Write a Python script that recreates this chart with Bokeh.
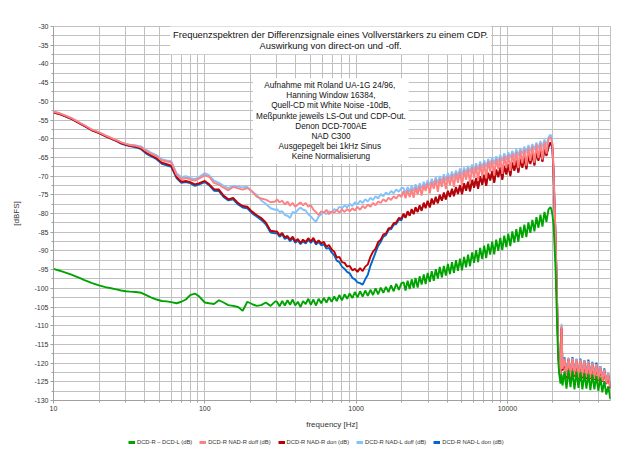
from bokeh.plotting import figure
from bokeh.layouts import column
from bokeh.models import FixedTicker, Legend, LegendItem, Label
from bokeh.embed import file_html
from bokeh.resources import INLINE

# ---------------- data ----------------
freq_hz = [
    10, 11, 12, 13, 14, 15, 16, 17, 18, 20, 22, 24, 26, 28, 30, 32, 35, 38, 41, 44,
    48, 52, 56, 60, 65, 70, 75, 80, 86, 92, 100, 107, 115, 124, 133, 143, 154, 166, 178, 191,
    205, 220, 236, 253, 272, 292,
    300, 312, 325, 338, 352, 366, 381, 396, 412, 429, 446, 464, 483, 502, 522, 543, 565, 588, 612, 637,
    662, 689, 717, 745, 775, 806, 839, 872, 907, 944, 982, 1021, 1062, 1105, 1149, 1195, 1243, 1293, 1345, 1399,
    1455, 1513, 1574, 1637, 1703, 1771, 1842, 1916, 1993,
    2060, 2120, 2190, 2260, 2330, 2400, 2470, 2550, 2630, 2710, 2800, 2880, 2970, 3070, 3160, 3260, 3360, 3470, 3570, 3690,
    3800, 3920, 4040, 4170, 4300, 4430, 4570, 4710, 4860, 5010, 5170, 5330, 5490, 5660, 5840, 6020, 6210, 6400, 6600, 6810,
    7020, 7240, 7460, 7690, 7930, 8180, 8430, 8700, 8970, 9250, 9530, 9830, 10130, 10450, 10770, 11110, 11450, 11810, 12170, 12550,
    12940, 13340, 13760, 14180, 14620, 15080, 15550, 16030, 16530, 17040, 17570, 18110, 18680, 19260,
    19560, 19860, 20170, 20480, 20790, 21110, 21430, 21760, 22090, 22430, 22780, 23130,
    23840, 24570, 25330, 26110, 26910, 27740, 28590, 29470, 30380, 31310, 32270, 33270, 34290, 35340, 36430, 37550, 38710, 39900, 41120, 42390,
    43690, 45030, 46420, 47850,
]

dcd_r_minus_l = [
    -94.8, -95.3, -95.8, -96.3, -96.8, -97.3, -97.8, -98.2, -98.6, -99.2, -99.7, -100.0, -100.3, -100.6, -100.8, -100.9, -101.0, -101.2, -101.8, -102.4,
    -103.0, -103.4, -103.5, -103.7, -104.0, -103.6, -103.0, -101.8, -101.4, -102.2, -103.8, -104.0, -104.2, -103.2, -103.8, -104.5, -104.7, -105.0, -106.0, -103.6,
    -104.2, -104.7, -104.5, -103.8, -104.7, -103.5,
    -103.6, -104.8, -103.4, -104.6, -103.2, -104.4, -103.0, -104.6, -103.6, -105.0, -103.4, -104.2, -102.8, -104.4, -103.0, -104.6, -102.8, -104.0, -102.6, -103.8,
    -102.4, -103.6, -102.2, -103.4, -101.8, -103.2, -101.6, -102.8, -101.4, -102.6, -101.0, -102.4, -100.8, -102.2, -100.6, -102.0, -100.4, -101.8, -100.0, -101.6,
    -99.8, -101.2, -99.6, -101.0, -99.2, -100.8, -98.8, -100.4, -98.6,
    -98.4, -100.6, -98.0, -100.2, -97.6, -99.9, -97.2, -99.8, -96.8, -99.0, -96.3, -98.9, -95.9, -98.3, -95.4, -98.0, -94.9, -97.4, -94.3, -97.1,
    -94.0, -96.6, -93.5, -96.2, -93.0, -95.9, -92.5, -95.3, -92.1, -95.2, -91.6, -94.4, -91.0, -94.1, -90.4, -93.2, -89.8, -93.0, -89.2, -92.2,
    -88.6, -91.9, -88.1, -91.0, -87.5, -90.9, -87.0, -90.0, -86.5, -89.8, -85.9, -89.0, -85.4, -88.7, -84.8, -87.8, -84.2, -87.6, -83.6, -86.5,
    -83.0, -86.3, -82.4, -85.2, -81.7, -84.8, -81.0, -83.8, -80.3, -83.5, -79.6, -82.2, -78.9, -78.3,
    -79.0, -80.5, -83.0, -88.5, -94.5, -104.0, -113.5, -120.5, -123.5, -125.5, -123.0, -126.0,
    -122.2, -126.8, -121.8, -126.4, -122.0, -127.0, -122.2, -126.6, -122.4, -127.0, -122.6, -126.8, -122.8, -127.2, -123.0, -127.0, -123.4, -127.4, -123.8, -127.8,
    -124.8, -128.4, -126.2, -129.6,
]

nad_r_doff = [
    -52.8, -53.2, -53.8, -54.4, -55.1, -55.8, -56.4, -57.0, -57.6, -58.3, -59.1, -59.8, -60.4, -61.0, -61.4, -61.7, -61.9, -62.3, -63.3, -64.0,
    -64.7, -65.8, -66.1, -66.3, -69.6, -70.8, -70.5, -70.9, -71.2, -70.6, -69.8, -70.2, -71.8, -72.3, -73.1, -73.8, -72.9, -73.3, -73.6, -73.2,
    -74.0, -75.5, -76.0, -76.3, -77.0, -76.8,
    -76.2, -77.0, -76.6, -77.6, -76.8, -77.9, -77.2, -78.2, -77.6, -77.0, -77.8, -77.2, -78.2, -77.8, -79.0, -79.6, -80.4, -79.4, -79.8, -79.0,
    -80.2, -79.4, -79.8, -79.0, -79.8, -78.9, -79.6, -78.8, -79.4, -78.6, -79.2, -78.2, -79.0, -78.0, -78.6, -77.6, -78.2, -77.2, -77.8, -76.8,
    -77.2, -76.2, -76.8, -75.8, -76.4, -75.4, -76.0, -75.0, -75.6,
    -74.0, -75.9, -73.8, -75.6, -73.5, -75.8, -73.0, -74.9, -72.6, -75.2, -72.3, -74.0, -71.8, -74.6, -71.5, -73.4, -70.9, -74.2, -70.8, -72.9,
    -70.2, -73.5, -70.0, -72.4, -69.6, -72.9, -69.2, -71.8, -68.8, -72.6, -68.5, -71.0, -68.0, -71.9, -67.6, -70.4, -67.2, -71.3, -66.8, -69.9,
    -66.5, -70.6, -66.0, -68.8, -65.7, -69.9, -65.4, -68.1, -65.0, -69.4, -64.6, -67.8, -64.2, -68.6, -63.9, -67.1, -63.5, -67.9, -63.1, -66.6,
    -62.8, -67.2, -62.4, -65.9, -62.0, -66.4, -61.6, -65.2, -61.2, -65.6, -60.8, -64.0, -60.2, -59.6,
    -60.2, -62.0, -68.5, -77.5, -85.5, -96.5, -108.5, -117.5, -122.0, -124.0, -110.0, -121.5,
    -119.0, -123.5, -118.6, -123.8, -118.8, -123.2, -119.0, -124.0, -119.2, -123.6, -119.4, -123.8, -119.6, -124.0, -120.0, -124.2, -120.4, -124.4, -121.0, -124.8,
    -121.8, -125.4, -123.0, -126.5,
]

nad_r_don = [
    -53.0, -53.4, -54.0, -54.6, -55.3, -56.0, -56.6, -57.2, -57.8, -58.5, -59.3, -60.0, -60.6, -61.2, -61.6, -61.9, -62.1, -62.6, -63.7, -64.4,
    -65.2, -66.4, -66.8, -67.2, -70.2, -71.5, -71.3, -71.6, -72.2, -71.9, -71.3, -72.2, -73.5, -73.6, -75.2, -76.2, -75.8, -77.2, -78.0, -78.2,
    -79.5, -80.4, -81.2, -82.4, -84.6, -84.8,
    -84.8, -85.8, -85.2, -86.4, -86.0, -87.0, -86.2, -87.4, -86.8, -87.9, -87.0, -87.6, -86.6, -87.5, -86.5, -87.9, -87.2, -88.0, -87.6, -88.9,
    -88.4, -89.6, -90.2, -91.8, -91.6, -93.0, -93.2, -94.2, -94.0, -95.2, -94.8, -95.6, -94.6, -95.4, -94.2, -93.6, -91.6, -90.2, -89.4, -87.6,
    -87.0, -85.6, -85.4, -84.0, -83.8, -82.6, -82.4, -81.2, -81.4,
    -80.0, -81.2, -79.4, -80.6, -78.8, -80.2, -78.3, -79.6, -77.8, -79.3, -77.1, -78.6, -76.6, -78.4, -76.0, -77.6, -75.5, -77.3, -75.0, -76.6,
    -74.4, -76.3, -73.9, -75.6, -73.4, -75.4, -72.9, -74.8, -72.4, -74.9, -71.9, -73.9, -71.5, -74.1, -71.0, -73.1, -70.5, -73.4, -70.0, -72.3,
    -69.6, -72.6, -69.1, -71.2, -68.6, -71.8, -68.2, -70.3, -67.7, -71.0, -67.2, -69.6, -66.8, -70.0, -66.3, -68.6, -65.8, -69.1, -65.4, -67.8,
    -64.9, -68.2, -64.5, -66.8, -64.0, -67.2, -63.5, -65.9, -63.1, -66.2, -62.6, -64.6, -62.0, -61.0,
    -61.4, -62.8, -69.0, -78.0, -86.0, -97.0, -109.0, -118.0, -122.5, -124.3, -110.5, -122.0,
    -119.6, -124.0, -119.0, -124.2, -119.3, -123.6, -119.5, -124.3, -119.6, -124.0, -119.8, -124.2, -120.0, -124.3, -120.4, -124.5, -120.8, -124.7, -121.4, -125.0,
    -122.2, -125.6, -123.4, -126.8,
]

nad_l_doff = [
    -52.8, -53.2, -53.8, -54.4, -55.1, -55.8, -56.4, -57.0, -57.6, -58.3, -59.1, -59.8, -60.4, -61.0, -61.4, -61.6, -61.8, -62.1, -63.0, -63.7,
    -64.4, -65.5, -65.8, -66.0, -69.2, -70.3, -70.0, -70.5, -70.8, -70.2, -69.2, -69.8, -71.2, -71.8, -72.6, -73.2, -72.6, -72.8, -73.0, -72.9,
    -74.2, -75.0, -76.5, -77.4, -78.6, -79.0,
    -78.8, -79.6, -79.4, -80.4, -80.6, -81.2, -79.6, -79.8, -79.0, -78.4, -79.0, -79.2, -80.2, -80.8, -81.6, -82.2, -80.8, -80.2, -79.6, -80.2,
    -79.4, -79.8, -78.8, -79.2, -78.2, -78.6, -77.8, -78.4, -77.4, -78.0, -77.0, -77.6, -76.6, -77.2, -76.2, -76.8, -75.8, -76.4, -75.4, -76.0,
    -74.8, -75.4, -74.4, -75.0, -74.0, -74.6, -73.6, -74.2, -73.2,
    -73.2, -74.6, -72.9, -74.2, -72.6, -74.0, -72.2, -73.8, -71.9, -73.3, -71.5, -73.0, -71.1, -72.6, -70.7, -72.2, -70.3, -71.9, -70.0, -71.5,
    -69.5, -71.2, -69.2, -70.7, -68.8, -70.5, -68.5, -70.0, -68.0, -69.8, -67.7, -69.2, -67.3, -69.0, -66.9, -68.5, -66.6, -68.3, -66.1, -67.8,
    -65.8, -67.6, -65.4, -67.0, -65.0, -66.8, -64.7, -66.3, -64.3, -66.0, -63.9, -65.6, -63.6, -65.2, -63.2, -64.9, -62.8, -64.6, -62.5, -64.1,
    -62.1, -63.8, -61.7, -63.4, -61.4, -63.0, -61.0, -62.7, -60.6, -62.3, -60.2, -61.8, -59.6, -58.9,
    -59.4, -61.5, -68.0, -77.0, -85.0, -96.0, -108.0, -117.0, -121.5, -123.5, -109.5, -121.0,
    -118.8, -123.0, -118.5, -123.2, -118.7, -122.9, -118.9, -123.3, -119.1, -123.1, -119.3, -123.3, -119.5, -123.5, -119.9, -123.7, -120.3, -124.0, -120.9, -124.4,
    -121.7, -125.0, -122.9, -126.2,
]

nad_l_don = [
    -53.0, -53.4, -54.0, -54.6, -55.3, -56.0, -56.6, -57.2, -57.8, -58.5, -59.3, -60.0, -60.6, -61.3, -61.7, -62.0, -62.3, -62.8, -64.0, -64.7,
    -65.5, -66.7, -67.1, -67.5, -70.5, -71.8, -71.6, -71.9, -72.6, -72.2, -71.6, -72.5, -73.9, -74.0, -75.6, -76.5, -76.2, -77.6, -78.4, -78.6,
    -79.9, -80.8, -81.7, -82.9, -85.1, -85.3,
    -85.2, -86.2, -85.6, -86.8, -86.4, -87.4, -86.6, -87.8, -87.2, -88.2, -87.4, -88.0, -87.0, -87.9, -87.0, -88.3, -87.6, -88.5, -88.2, -89.4,
    -89.2, -90.4, -91.2, -92.6, -93.0, -94.2, -94.8, -95.6, -96.0, -97.2, -97.6, -98.4, -98.6, -99.0, -97.6, -96.4, -94.0, -92.2, -90.4, -88.6,
    -87.6, -86.2, -85.8, -84.4, -84.2, -83.0, -82.8, -81.6, -81.8,
    -80.3, -81.0, -79.7, -80.4, -79.1, -80.0, -78.6, -79.4, -78.1, -79.0, -77.4, -78.3, -76.9, -78.1, -76.3, -77.3, -75.8, -77.0, -75.3, -76.3,
    -74.7, -76.0, -74.2, -75.3, -73.7, -75.1, -73.2, -74.5, -72.7, -74.6, -72.2, -73.6, -71.8, -73.8, -71.3, -72.8, -70.8, -73.1, -70.3, -72.0,
    -69.9, -72.3, -69.4, -70.9, -68.9, -71.5, -68.5, -70.0, -68.0, -70.7, -67.5, -69.3, -67.1, -69.7, -66.6, -68.3, -66.1, -68.8, -65.7, -67.5,
    -65.2, -67.9, -64.8, -66.5, -64.3, -66.9, -63.8, -65.6, -63.4, -65.9, -62.9, -64.3, -62.3, -61.3,
    -61.6, -63.0, -69.2, -78.2, -86.2, -97.2, -109.2, -118.2, -122.6, -124.4, -110.8, -121.8,
    -118.5, -122.5, -118.9, -122.8, -118.4, -122.6, -118.9, -123.0, -118.8, -122.8, -119.2, -123.0, -119.1, -123.2, -119.7, -123.4, -119.9, -123.8, -120.8, -124.2,
    -121.4, -124.8, -122.8, -126.0,
]

series_labels = [
    "DCD-R \u2013 DCD-L (dB)",
    "DCD-R NAD-R doff (dB)",
    "DCD-R NAD-R don (dB)",
    "DCD-R NAD-L doff (dB)",
    "DCD-R NAD-L don (dB)",
]
series_colors = ["#00a400", "#ff8080", "#c00000", "#80c4ff", "#0066cc"]

x_ticks = [10, 100, 1000, 10000]
x_tick_labels = ["10", "100", "1000", "10000"]
y_ticks = [-130, -125, -120, -115, -110, -105, -100, -95, -90, -85, -80, -75, -70, -65, -60, -55, -50, -45, -40, -35, -30]
y_tick_labels = ["-130", "-125", "-120", "-115", "-110", "-105", "-100", "-95", "-90", "-85", "-80", "-75", "-70", "-65", "-60", "-55", "-50", "-45", "-40", "-35", "-30"]

title_text = ("Frequenzspektren der Differenzsignale eines Vollverst\u00e4rkers zu einem CDP.\n"
              "Auswirkung von direct-on und -off.")
note_text = ("Aufnahme mit Roland  UA-1G 24/96,\n"
             "Hanning Window 16384,\n"
             "Quell-CD mit White Noise -10dB,\n"
             "Me\u00dfpunkte jeweils LS-Out und CDP-Out.\n"
             "Denon DCD-700AE\n"
             "NAD C300\n"
             "Ausgepegelt bei 1kHz  Sinus\n"
             "Keine Normalisierung")

all_series = [dcd_r_minus_l, nad_r_doff, nad_r_don, nad_l_doff, nad_l_don]
for s in all_series:
    if len(s) != len(freq_hz):
        raise ValueError("length mismatch %d vs %d" % (len(s), len(freq_hz)))

# ---------------- main figure ----------------
FONT = "Liberation Sans"
GRID = "#c0c0c0"

p = figure(width=640, height=432, x_axis_type="log", x_range=(10, 48000), y_range=(-130, -30),
           output_backend="svg", toolbar_location=None,
           min_border_left=53, min_border_right=30, min_border_top=26, min_border_bottom=32)
p.background_fill_color = "white"
p.border_fill_color = "white"
p.outline_line_color = GRID

x_minor = [m * 10 ** k for k in range(1, 5) for m in range(2, 10)]
y_minor = [t + 2.5 for t in y_ticks[:-1]]
p.xaxis.ticker = FixedTicker(ticks=x_ticks, minor_ticks=x_minor)
p.yaxis.ticker = FixedTicker(ticks=y_ticks, minor_ticks=y_minor)
p.xaxis.major_label_overrides = dict(zip(x_ticks, x_tick_labels))
p.yaxis.major_label_overrides = dict(zip(y_ticks, y_tick_labels))

for g in (p.xgrid, p.ygrid):
    g.grid_line_color = GRID
    g.grid_line_width = 1
    g.minor_grid_line_color = GRID
    g.minor_grid_line_width = 1

for ax in (p.xaxis, p.yaxis):
    ax.axis_line_color = "#a0a0a0"
    ax.major_tick_line_color = "#a0a0a0"
    ax.minor_tick_line_color = "#a0a0a0"
    ax.major_tick_out = 3
    ax.major_tick_in = 0
    ax.minor_tick_out = 2
    ax.minor_tick_in = 0
    ax.major_label_text_font = FONT
    ax.major_label_text_font_size = "7px"
    ax.major_label_text_color = "#333333"
    ax.major_label_standoff = 2
    ax.axis_label_text_font = FONT
    ax.axis_label_text_font_size = "8px"
    ax.axis_label_text_font_style = "normal"
    ax.axis_label_text_color = "#333333"

p.xaxis.axis_label = "frequency [Hz]"
p.xaxis.axis_label_standoff = 6
p.yaxis.axis_label = "[dBFS]"
p.yaxis.axis_label_standoff = 10

# draw order: don L, doff L, don R, doff R, DCD R-L (top)
for i in [4, 3, 2, 1, 0]:
    p.line(freq_hz, all_series[i], line_color=series_colors[i], line_width=1.9)

title = Label(x=678, y=-33.6, text=title_text, text_align="center", text_baseline="middle",
              text_font=FONT, text_font_size="9.4px", text_color="#111111",
              text_line_height=1.04, background_fill_color="white", padding=3)
p.add_layout(title)

note = Label(x=682, y=-55.3, text=note_text, text_align="center", text_baseline="middle",
             text_font=FONT, text_font_size="8.2px", text_color="#111111",
             text_line_height=1.12, background_fill_color="white", padding=3)
p.add_layout(note)

# ---------------- legend strip below ----------------
lg = figure(width=640, height=32, x_range=(0, 1), y_range=(0, 1),
            output_backend="svg", toolbar_location=None, min_border=0)
lg.axis.visible = False
lg.grid.visible = False
lg.outline_line_color = None
lg.background_fill_color = "white"
lg.border_fill_color = "white"

items = []
for i in range(5):
    r = lg.line(x=[2, 3], y=[2, 3], line_color=series_colors[i], line_width=3)
    items.append(LegendItem(label=series_labels[i], renderers=[r]))

legend = Legend(items=items, orientation="horizontal", location=(75, 18),
                label_text_font=FONT, label_text_font_size="5.8px", label_text_color="#333333",
                glyph_width=7, glyph_height=6, label_standoff=2, spacing=7,
                padding=2, margin=0, border_line_color=None, background_fill_alpha=0,
                label_height=8)
lg.add_layout(legend, "center")

open("out.html", "w").write(file_html(column(p, lg, spacing=0), INLINE))
